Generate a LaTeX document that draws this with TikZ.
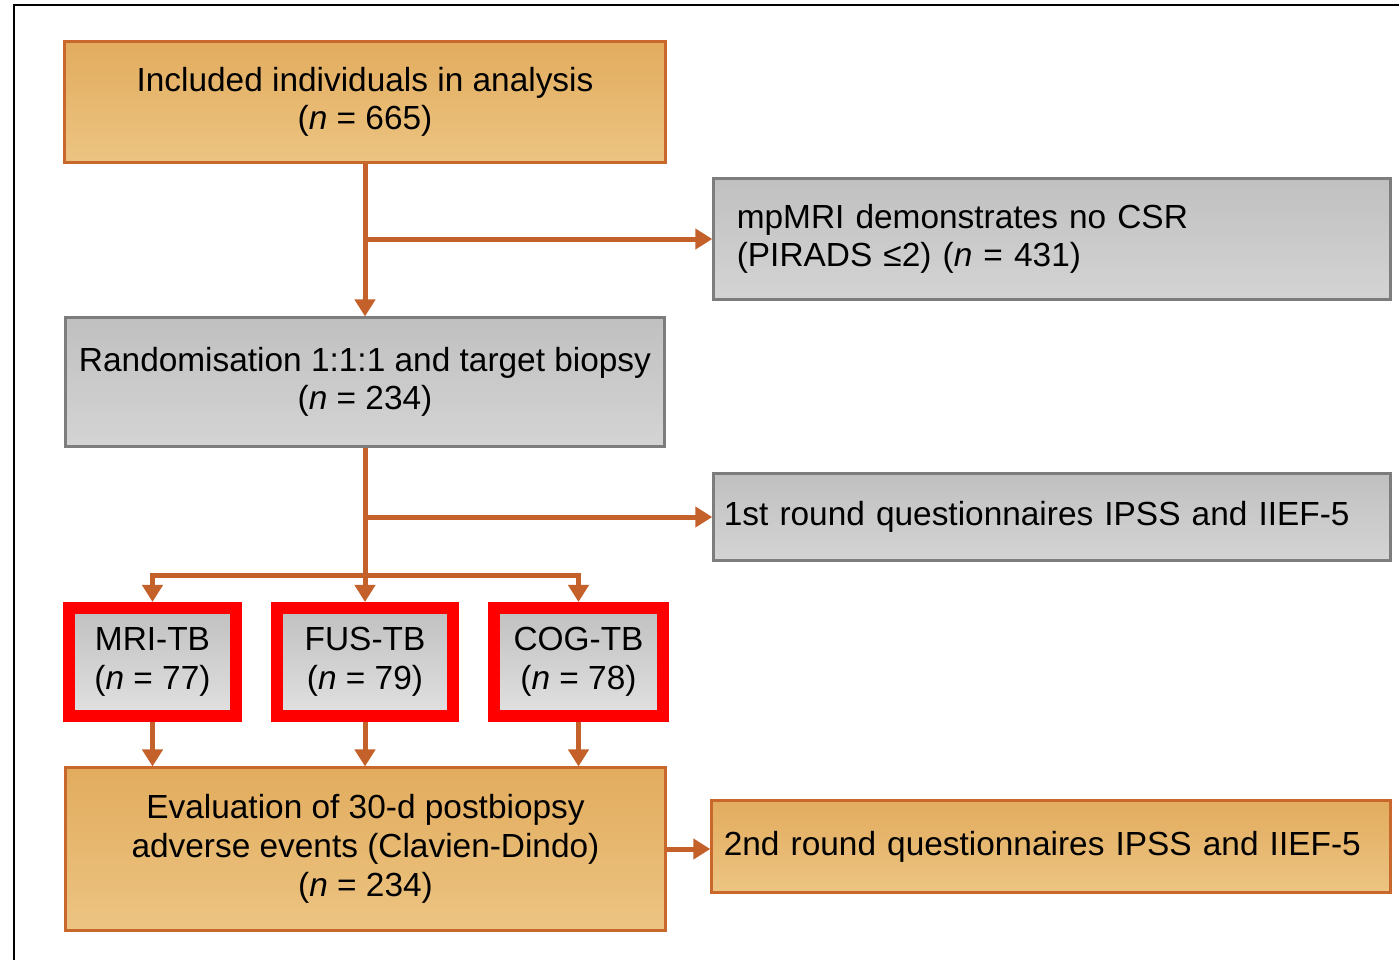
\documentclass[tikz,border=0pt]{standalone}
\usepackage{fontspec}
\setmainfont{Liberation Sans}
\usetikzlibrary{arrows.meta}
\definecolor{tanfill}{RGB}{226,172,94}
\definecolor{tanlight}{RGB}{236,196,130}
\definecolor{tanedge}{RGB}{200,104,44}
\definecolor{arrowc}{RGB}{196,97,42}
\definecolor{grayfill}{RGB}{192,192,192}
\definecolor{graylight}{RGB}{212,212,212}
\definecolor{grayedge}{RGB}{125,125,125}
\tikzset{
  boxfont/.style={font=\fontsize{9.5}{11}\selectfont},
  tanbox/.style={draw=tanedge, line width=0.03cm, top color=tanfill, bottom color=tanlight, align=center, inner sep=0pt, boxfont},
  graybox/.style={draw=grayedge, line width=0.03cm, top color=grayfill, bottom color=graylight, align=center, inner sep=0pt, boxfont},
  armbox/.style={draw=red, line width=0.12cm, top color=grayfill, bottom color=graylight!70!white, align=center, inner sep=0pt, minimum height=1.08cm, boxfont},
  arr/.style={draw=arrowc, line width=0.05cm, -{Triangle[width=0.2cm,length=0.17cm]}},
  link/.style={draw=arrowc, line width=0.05cm}
}
\begin{document}
\begin{tikzpicture}[x=0.01cm, y=-0.01cm]
      \useasboundingbox (0,0) rectangle (1399,960);
      \draw[line width=0.02cm] (14,960) -- (14,5) -- (1399,5);

      \node (incl) at (365,102) [tanbox, minimum width=6cm, minimum height=1.2cm] {Included individuals in analysis\\(\textit{n} = 665)};
      \node (nocsr) at (1052,239) [graybox, align=left, text width=6.3cm, inner xsep=0.23cm, minimum height=1.2cm] {mpMRI demonstrates no CSR\\(PIRADS ≤2) (\textit{n} = 431)};
      \node (rand) at (365,382) [graybox, minimum width=5.98cm, minimum height=1.28cm] {Randomisation 1:1:1 and target biopsy\\(\textit{n} = 234)};
      \node (first) at (1052,517) [graybox, align=left, text width=6.56cm, inner xsep=0.1cm, minimum height=0.86cm] {1st round questionnaires IPSS and IIEF-5};
      \node (mri) at (152.5,662) [armbox, minimum width=1.67cm] {MRI-TB\\(\textit{n} = 77)};
      \node (fus) at (365,662) [armbox, minimum width=1.76cm] {FUS-TB\\(\textit{n} = 79)};
      \node (cog) at (578.5,662) [armbox, minimum width=1.69cm] {COG-TB\\(\textit{n} = 78)};
      \node (eval) at (365.5,849) [tanbox, minimum width=5.99cm, minimum height=1.62cm] {Evaluation of 30-d postbiopsy\\adverse events (Clavien-Dindo)\\(\textit{n} = 234)};
      \node (second) at (1051,846.5) [tanbox, align=left, text width=6.54cm, inner xsep=0.12cm, minimum height=0.91cm] {2nd round questionnaires IPSS and IIEF-5};
      \coordinate (split) at (365,575);

      \draw[arr] (incl.south) -- (rand.north);
      \draw[arr] (incl.south |- nocsr.west) -- (nocsr.west);
      \draw[link] (rand.south) -- (split);
      \draw[arr] (rand.south |- first.west) -- (first.west);
      \draw[arr] (split) -| (mri.north);
      \draw[arr] (split) -- (fus.north);
      \draw[arr] (split) -| (cog.north);
      \draw[arr] (mri.south) -- (mri.south |- eval.north);
      \draw[arr] (fus.south) -- (fus.south |- eval.north);
      \draw[arr] (cog.south) -- (cog.south |- eval.north);
      \draw[arr] (eval.east) -- (eval.east -| second.west);
\end{tikzpicture}
\end{document}
